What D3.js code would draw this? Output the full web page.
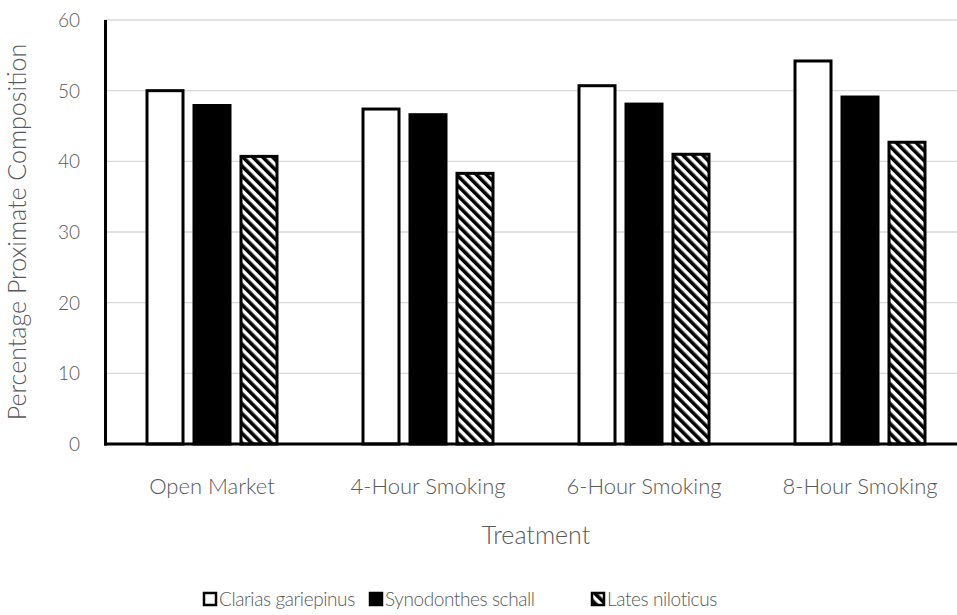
<!DOCTYPE html>
<html>
<head>
<meta charset="utf-8">
<script src="https://cdn.jsdelivr.net/npm/d3@7"></script>
<style>
  body { margin: 0; background: #fff; }
  text { font-family: Lato, "Open Sans", sans-serif; font-weight: 300; fill: #595959; }
</style>
</head>
<body>
<div class="chart"></div>
<script>
'use strict';

// chart data
var treatments = ['Open Market', '4-Hour Smoking', '6-Hour Smoking', '8-Hour Smoking'];
var species = ['Clarias gariepinus', 'Synodonthes schall', 'Lates niloticus'];
var clarias = [50.0, 47.4, 50.7, 54.2];
var synodonthes = [47.9, 46.6, 48.1, 49.1];
var lates = [40.7, 38.3, 41.0, 42.7];
var yTicks = [0, 10, 20, 30, 40, 50, 60];

var seriesValues = [clarias, synodonthes, lates];

var width = 957;
var height = 615;
var margin = { top: 20, right: -11, bottom: 171, left: 104 };

var svg = d3.select('.chart')
  .append('svg')
  .attr('width', width)
  .attr('height', height);

var defs = svg.append('defs');
defs.append('pattern')
  .attr('id', 'hatch')
  .attr('patternUnits', 'userSpaceOnUse')
  .attr('width', 7)
  .attr('height', 7)
  .attr('patternTransform', 'rotate(-45)')
  .call(function(p) {
    p.append('rect').attr('width', 7).attr('height', 7).attr('fill', '#fff');
    p.append('rect').attr('x', 0).attr('width', 3.6).attr('height', 7).attr('fill', '#000');
  });

var fills = ['#fff', '#000', 'url(#hatch)'];

var x0 = d3.scaleBand()
  .domain(treatments)
  .range([margin.left, width - margin.right]);

var x1 = d3.scaleBand()
  .domain(species)
  .range([-66.5, 66.5])
  .paddingInner(0.17);

var y = d3.scaleLinear()
  .domain([0, 60])
  .range([height - margin.bottom, margin.top]);

// gridlines
svg.append('g')
  .selectAll('line')
  .data(yTicks.slice(1))
  .enter()
  .append('line')
  .attr('x1', margin.left)
  .attr('x2', width)
  .attr('y1', function(d) { return y(d); })
  .attr('y2', function(d) { return y(d); })
  .attr('stroke', '#d9d9d9')
  .attr('stroke-width', 1.3);

// bars
var groups = svg.append('g')
  .selectAll('g')
  .data(treatments)
  .enter()
  .append('g')
  .attr('transform', function(d) {
    return 'translate(' + (x0(d) + x0.bandwidth() / 2) + ',0)';
  });

groups.selectAll('rect')
  .data(function(d, i) {
    return species.map(function(s, j) {
      return { species: s, idx: j, value: seriesValues[j][i] };
    });
  })
  .enter()
  .append('rect')
  .attr('x', function(d) { return x1(d.species) + 1.5; })
  .attr('y', function(d) { return y(d.value); })
  .attr('width', x1.bandwidth() - 3)
  .attr('height', function(d) { return y(0) - y(d.value); })
  .attr('fill', function(d) { return fills[d.idx]; })
  .attr('stroke', '#000')
  .attr('stroke-width', 3);

// axes lines
svg.append('line')
  .attr('x1', margin.left + 1.5)
  .attr('x2', margin.left + 1.5)
  .attr('y1', y(60))
  .attr('y2', y(0) + 1.5)
  .attr('stroke', '#000')
  .attr('stroke-width', 3);

svg.append('line')
  .attr('x1', margin.left)
  .attr('x2', width)
  .attr('y1', y(0))
  .attr('y2', y(0))
  .attr('stroke', '#000')
  .attr('stroke-width', 3);

// y tick labels
svg.append('g')
  .selectAll('text')
  .data(yTicks)
  .enter()
  .append('text')
  .attr('x', 80)
  .attr('y', function(d) { return y(d); })
  .attr('dy', '0.36em')
  .attr('text-anchor', 'end')
  .attr('font-size', '19px')
  .text(function(d) { return d; });

// category labels
svg.append('g')
  .selectAll('text')
  .data(treatments)
  .enter()
  .append('text')
  .attr('x', function(d) { return x0(d) + x0.bandwidth() / 2; })
  .attr('y', 494)
  .attr('text-anchor', 'middle')
  .attr('font-size', '22px')
  .text(function(d) { return d; });

// axis titles
svg.append('text')
  .attr('x', x0.range()[0] / 2 + x0.range()[1] / 2)
  .attr('y', 544)
  .attr('text-anchor', 'middle')
  .attr('font-size', '25px')
  .text('Treatment');

svg.append('text')
  .attr('transform', 'translate(26,' + (y(30)) + ') rotate(-90)')
  .attr('text-anchor', 'middle')
  .attr('font-size', '25px')
  .text('Percentage Proximate Composition');

// legend
var legendX = [203, 369, 591];
var legend = svg.append('g')
  .selectAll('g')
  .data(species)
  .enter()
  .append('g')
  .attr('transform', function(d, i) { return 'translate(' + legendX[i] + ',592)'; });

legend.append('rect')
  .attr('x', 1)
  .attr('y', 1)
  .attr('width', 12)
  .attr('height', 12)
  .attr('fill', function(d, i) { return fills[i]; })
  .attr('stroke', '#000')
  .attr('stroke-width', 2.5);

legend.append('text')
  .attr('x', 16)
  .attr('y', 14)
  .attr('font-size', '19px')
  .attr('letter-spacing', '-0.4px')
  .text(function(d) { return d; });
</script>
</body>
</html>
